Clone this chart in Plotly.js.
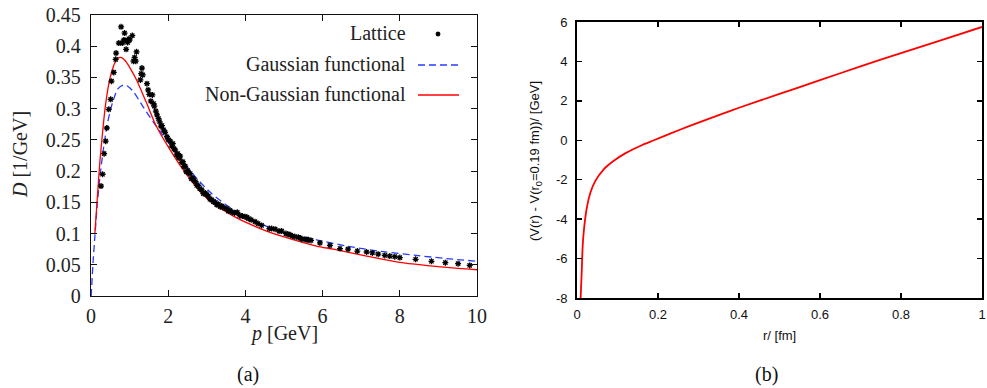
<!DOCTYPE html>
<html>
<head>
<meta charset="utf-8">
<script src="https://cdn.plot.ly/plotly-3.0.1.min.js"></script>
<style>html,body{margin:0;padding:0;background:#fff;}#chart{width:987px;height:388px;}</style>
</head>
<body>
<div id="chart"></div>
<script>
// ---- Panel (a): gluon propagator D(p) ----
const latticeP = [0.26,0.30,0.34,0.38,0.41,0.46,0.51,0.53,0.59,0.64,0.65,0.72,0.78,0.81,0.85,0.87,0.88,0.91,0.95,0.98,1.00,1.07,1.10,1.13,1.16,1.18,1.28,1.30,1.32,1.34,1.45,1.48,1.51,1.55,1.59,1.62,1.64,1.68,1.71,1.75,1.78,1.81,1.84,1.88,1.92,1.97,2.01,2.05,2.09,2.12,2.15,2.18,2.22,2.25,2.28,2.31,2.35,2.38,2.41,2.44,2.47,2.50,2.53,2.57,2.60,2.64,2.67,2.71,2.74,2.78,2.82,2.87,2.91,2.96,3.00,3.04,3.08,3.13,3.17,3.22,3.26,3.30,3.35,3.39,3.45,3.52,3.56,3.60,3.66,3.72,3.79,3.85,3.92,3.99,4.04,4.08,4.15,4.25,4.33,4.42,4.62,4.68,4.77,4.87,4.94,5.05,5.10,5.16,5.22,5.28,5.37,5.42,5.46,5.54,5.60,5.63,5.70,5.93,6.19,6.45,6.66,6.90,7.14,7.29,7.44,7.61,7.74,7.87,8.00,8.41,8.82,9.18,9.51,9.81];
const latticeD = [0.176,0.195,0.228,0.248,0.269,0.299,0.315,0.344,0.358,0.379,0.389,0.405,0.431,0.405,0.410,0.421,0.409,0.395,0.406,0.412,0.410,0.417,0.376,0.382,0.376,0.391,0.346,0.356,0.365,0.354,0.340,0.330,0.323,0.312,0.322,0.308,0.304,0.296,0.290,0.284,0.279,0.272,0.273,0.266,0.262,0.255,0.250,0.248,0.240,0.244,0.236,0.234,0.226,0.228,0.221,0.224,0.214,0.215,0.207,0.208,0.199,0.201,0.197,0.196,0.188,0.189,0.185,0.183,0.177,0.177,0.172,0.170,0.164,0.165,0.162,0.160,0.155,0.154,0.151,0.150,0.146,0.147,0.143,0.144,0.141,0.140,0.136,0.137,0.134,0.133,0.134,0.129,0.128,0.127,0.126,0.124,0.122,0.119,0.116,0.113,0.108,0.108,0.107,0.104,0.104,0.100,0.099,0.098,0.096,0.095,0.094,0.093,0.091,0.091,0.090,0.090,0.089,0.085,0.081,0.076,0.075,0.072,0.0705,0.069,0.067,0.065,0.064,0.063,0.0615,0.0588,0.0556,0.0534,0.0518,0.049];

const gaussP = [0.005,0.03,0.06,0.10,0.16,0.23,0.32,0.41,0.50,0.58,0.70,0.84,0.95,1.10,1.35,1.61,1.88,2.22,2.66,3.09,3.69,4.21,4.98,5.84,6.71,7.57,8.43,9.20,10.0];
const gaussD = [0.0,0.03,0.06,0.095,0.145,0.19,0.235,0.271,0.297,0.314,0.332,0.338,0.336,0.327,0.303,0.279,0.256,0.228,0.194,0.166,0.138,0.121,0.102,0.090,0.079,0.071,0.065,0.060,0.0556];

const nonGaussP = [0.10,0.15,0.23,0.30,0.36,0.42,0.49,0.56,0.62,0.70,0.77,0.85,0.92,1.02,1.18,1.44,1.70,2.05,2.40,2.83,3.17,3.69,4.12,4.55,4.98,5.84,6.28,7.14,8.00,8.86,10.0];
const nonGaussD = [0.100,0.145,0.215,0.262,0.298,0.325,0.348,0.364,0.374,0.381,0.382,0.379,0.374,0.364,0.346,0.309,0.271,0.234,0.201,0.167,0.148,0.128,0.115,0.104,0.095,0.080,0.075,0.064,0.054,0.048,0.042];

const aXTickVals = [0,2,4,6,8,10];
const aXTickText = ['0','2','4','6','8','10'];
const aYTickVals = [0,0.05,0.1,0.15,0.2,0.25,0.3,0.35,0.4,0.45];
const aYTickText = ['0','0.05','0.1','0.15','0.2','0.25','0.3','0.35','0.4','0.45'];

// ---- Panel (b): potential V(r) - V(r0) ----
const rVals = [0.009,0.0115,0.014,0.018,0.025,0.033,0.045,0.066,0.09,0.12,0.16,0.19,0.23,0.28,0.35,0.40,0.50,0.60,0.70,0.80,0.90,1.00];
const vVals = [-8.0,-6.73,-5.37,-4.36,-3.34,-2.66,-2.07,-1.47,-1.05,-0.65,-0.25,0.0,0.34,0.74,1.28,1.65,2.35,3.05,3.75,4.42,5.08,5.75];

const bXTickVals = [0,0.2,0.4,0.6,0.8,1];
const bXTickText = ['0','0.2','0.4','0.6','0.8','1'];
const bYTickVals = [-8,-6,-4,-2,0,2,4,6];
const bYTickText = ['-8','-6','-4','-2','0','2','4','6'];

const legendLabels = ['Lattice','Gaussian functional','Non-Gaussian functional'];

// ---- geometry helpers (pixels -> paper) ----
const W = 987, H = 388;
const px = v => v / W;
const py = v => 1 - v / H;

const serif = '"Liberation Serif", "Times New Roman", serif';
const sans = '"Liberation Sans", Arial, sans-serif';
const BLUE = 'rgb(40,60,255)';
const RED = 'rgb(255,0,0)';

const traces = [
  {x: gaussP, y: gaussD, type: 'scatter', mode: 'lines', xaxis: 'x', yaxis: 'y',
   line: {color: BLUE, width: 1.3, dash: '7px,4px', shape: 'spline', smoothing: 0.8}, hoverinfo: 'skip', showlegend: false},
  {x: nonGaussP, y: nonGaussD, type: 'scatter', mode: 'lines', xaxis: 'x', yaxis: 'y',
   line: {color: RED, width: 1.3, shape: 'spline', smoothing: 0.8}, hoverinfo: 'skip', showlegend: false},
  {x: latticeP, y: latticeD, type: 'scatter', mode: 'markers', xaxis: 'x', yaxis: 'y',
   marker: {symbol: 'asterisk-open', size: 5, color: '#000', line: {color: '#111', width: 1.3}}, hoverinfo: 'skip', showlegend: false},
  {x: rVals, y: vVals, type: 'scatter', mode: 'lines', xaxis: 'x2', yaxis: 'y2',
   line: {color: RED, width: 1.8, shape: 'spline', smoothing: 0.6}, hoverinfo: 'skip', showlegend: false},
  // legend key for "Lattice" (independent axes spanning the whole figure)
  {x: [px(438)], y: [py(34)], type: 'scatter', mode: 'markers', xaxis: 'x3', yaxis: 'y3',
   marker: {symbol: 'asterisk-open', size: 4, color: '#000', line: {color: '#111', width: 1.3}}, hoverinfo: 'skip', showlegend: false}
];

const axA = {
  showgrid: false, zeroline: false, showline: true, mirror: 'ticks', linecolor: '#111', linewidth: 1.3,
  ticks: 'inside', ticklen: 6, tickwidth: 1, tickcolor: '#111',
  tickfont: {family: serif, size: 20, color: '#222'}
};
const axB = {
  showgrid: false, zeroline: false, showline: true, mirror: 'ticks', linecolor: '#000', linewidth: 1.8,
  ticks: 'inside', ticklen: 5, tickwidth: 1.3, tickcolor: '#000',
  tickfont: {family: sans, size: 13, color: '#111'}
};

const layout = {
  width: W, height: H, margin: {l: 0, r: 0, t: 0, b: 0},
  paper_bgcolor: '#fff', plot_bgcolor: 'rgba(0,0,0,0)', showlegend: false,
  xaxis: Object.assign({}, axA, {domain: [px(91), px(477)], range: [0, 10], anchor: 'y',
    tickmode: 'array', tickvals: aXTickVals, ticktext: aXTickText, ticklabelstandoff: 2}),
  yaxis: Object.assign({}, axA, {domain: [py(296), py(15)], range: [0, 0.45], anchor: 'x',
    tickmode: 'array', tickvals: aYTickVals, ticktext: aYTickText, ticklabelstandoff: 5}),
  xaxis2: Object.assign({}, axB, {domain: [px(577), px(982)], range: [0, 1], anchor: 'y2',
    tickmode: 'array', tickvals: bXTickVals, ticktext: bXTickText, ticklabelstandoff: 4}),
  yaxis2: Object.assign({}, axB, {domain: [py(298), py(22)], range: [-8, 6], anchor: 'x2',
    tickmode: 'array', tickvals: bYTickVals, ticktext: bYTickText, ticklabelstandoff: 5}),
  xaxis3: {domain: [0, 1], range: [0, 1], anchor: 'y3', visible: false, fixedrange: true},
  yaxis3: {domain: [0, 1], range: [0, 1], anchor: 'x3', visible: false, fixedrange: true},
  shapes: [
    {type: 'line', xref: 'paper', yref: 'paper', x0: px(418), x1: px(459), y0: py(65), y1: py(65),
     line: {color: BLUE, width: 1.3, dash: '7px,4px'}},
    {type: 'line', xref: 'paper', yref: 'paper', x0: px(418), x1: px(459), y0: py(95), y1: py(95),
     line: {color: RED, width: 1.3}}
  ],
  annotations: [
    {text: legendLabels[0], xref: 'paper', yref: 'paper', x: px(408), y: py(33), xanchor: 'right', yanchor: 'middle',
     showarrow: false, font: {family: serif, size: 20, color: '#222'}},
    {text: legendLabels[1], xref: 'paper', yref: 'paper', x: px(408), y: py(64), xanchor: 'right', yanchor: 'middle',
     showarrow: false, font: {family: serif, size: 20, color: '#222'}},
    {text: legendLabels[2], xref: 'paper', yref: 'paper', x: px(408), y: py(94), xanchor: 'right', yanchor: 'middle',
     showarrow: false, font: {family: serif, size: 20, color: '#222'}},
    {text: '<i>D</i> [1/GeV]', xref: 'paper', yref: 'paper', x: px(20), y: py(155), textangle: -90,
     xanchor: 'center', yanchor: 'middle', showarrow: false, font: {family: serif, size: 20, color: '#222'}},
    {text: '<i>p</i> [GeV]', xref: 'paper', yref: 'paper', x: px(284), y: py(333),
     xanchor: 'center', yanchor: 'middle', showarrow: false, font: {family: serif, size: 20, color: '#222'}},
    {text: '(a)', xref: 'paper', yref: 'paper', x: px(248), y: py(374),
     xanchor: 'center', yanchor: 'middle', showarrow: false, font: {family: serif, size: 20, color: '#111'}},
    {text: '(V(r) - V(r<sub>0</sub>=0.19 fm))/ [GeV]', xref: 'paper', yref: 'paper', x: px(535), y: py(161), textangle: -90,
     xanchor: 'center', yanchor: 'middle', showarrow: false, font: {family: sans, size: 13, color: '#111'}},
    {text: 'r/ [fm]', xref: 'paper', yref: 'paper', x: px(779), y: py(335),
     xanchor: 'center', yanchor: 'middle', showarrow: false, font: {family: sans, size: 13, color: '#111'}},
    {text: '(b)', xref: 'paper', yref: 'paper', x: px(766), y: py(374),
     xanchor: 'center', yanchor: 'middle', showarrow: false, font: {family: serif, size: 20, color: '#111'}}
  ]
};

Plotly.newPlot('chart', traces, layout, {staticPlot: true, displayModeBar: false});
</script>
</body>
</html>
